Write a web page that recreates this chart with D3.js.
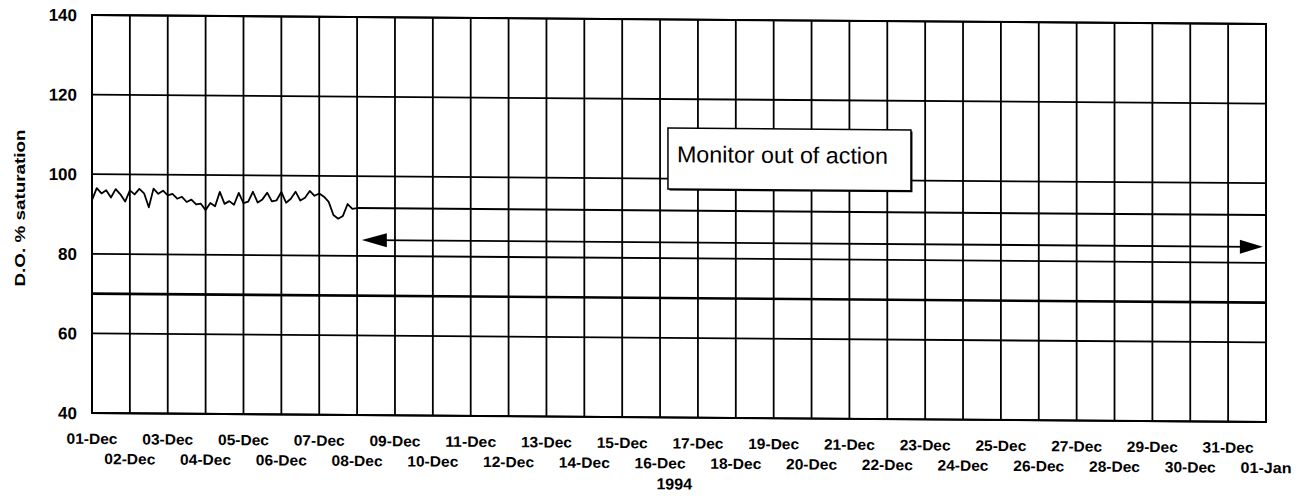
<!DOCTYPE html>
<html>
<head>
<meta charset="utf-8">
<script src="https://cdn.jsdelivr.net/npm/d3@7"></script>
<style>
  body { margin: 0; background: #fff; }
  text { font-family: "Liberation Sans", Arial, sans-serif; fill: #000; }
</style>
</head>
<body>
<div id="chart"></div>
<script>
// ---- data ----
let startDate = new Date(1994, 11, 1);
let endDate = new Date(1995, 0, 1);
let stepHours = 3; // readings every 3 hours

// D.O. % saturation, 01-Dec 00:00 .. 08-Dec 00:00
let doValues = [
    93.5, 96.5, 95.2, 96.0, 94.2, 96.3, 95.0, 93.2,
    96.0, 95.0, 96.4, 95.3, 91.8, 96.5, 95.2, 96.0,
    94.8, 95.2, 94.0, 94.5, 93.2, 93.8, 92.6, 92.8,
    91.2, 93.0, 92.2, 95.8, 92.8, 93.5, 92.6, 95.6,
    93.0, 93.4, 95.9, 93.2, 94.0, 95.7, 93.5, 93.8,
    95.9, 93.2, 94.2, 96.0, 93.8, 94.5, 96.2, 95.0,
    95.6, 94.8, 93.5, 90.2, 89.3, 90.0, 93.0, 91.8,
    92.0
];
// flat trace after the monitor stopped
let flatTrace = [
    {date: new Date(1994, 11, 8), value: 92.0},
    {date: new Date(1995, 0, 1), value: 92.0}
];
let yTicks = [40, 60, 80, 100, 120, 140];
let thresholdValue = 70;
// double arrow marking the outage
let arrowSpan = [new Date(1994, 11, 8, 3), new Date(1994, 11, 31, 22)];
let arrowValue = 84;
// annotation box corners (date, value)
let noteBox = [new Date(1994, 11, 16, 5), 112.7, new Date(1994, 11, 22, 15), 97.4];
let noteText = "Monitor out of action";
let yTitle = "D.O. % saturation";
let xTitle = "1994";

// ---- layout ----
let width = 1302, height = 503;
let margin = {left: 92, top: 15};
let plotW = 1174, plotH = 398;

let svg = d3.select("#chart").append("svg")
    .attr("width", width)
    .attr("height", height);

// the scan is slightly skewed, keep that
let g = svg.append("g")
    .attr("transform", `translate(${margin.left},${margin.top}) skewY(0.44)`);

let x = d3.scaleTime().domain([startDate, endDate]).range([0, plotW]);
let y = d3.scaleLinear().domain([40, 140]).range([plotH, 0]);

let series = doValues.map((v, i) => ({
    date: d3.timeHour.offset(startDate, i * stepHours),
    value: v
}));

// vertical day grid
let days = d3.timeDay.range(startDate, d3.timeDay.offset(endDate, 1));
g.selectAll(".vgrid")
    .data(days)
    .join("line")
    .attr("class", "vgrid")
    .attr("x1", d => x(d)).attr("x2", d => x(d))
    .attr("y1", 0).attr("y2", plotH)
    .attr("stroke", "#000")
    .attr("stroke-width", 1.8);

// horizontal grid
g.selectAll(".hgrid")
    .data(yTicks)
    .join("line")
    .attr("class", "hgrid")
    .attr("x1", 0).attr("x2", plotW)
    .attr("y1", d => y(d)).attr("y2", d => y(d))
    .attr("stroke", "#000")
    .attr("stroke-width", 1.8);

// frame
g.append("rect")
    .attr("width", plotW).attr("height", plotH)
    .attr("fill", "none")
    .attr("stroke", "#000")
    .attr("stroke-width", 2);

// 70% line
g.append("line")
    .attr("x1", 0).attr("x2", plotW)
    .attr("y1", y(thresholdValue)).attr("y2", y(thresholdValue))
    .attr("stroke", "#000")
    .attr("stroke-width", 2.6);

let line = d3.line().x(d => x(d.date)).y(d => y(d.value));

g.append("path")
    .datum(series)
    .attr("d", line)
    .attr("fill", "none")
    .attr("stroke", "#000")
    .attr("stroke-width", 1.8)
    .attr("stroke-linejoin", "round");

g.append("path")
    .datum(flatTrace)
    .attr("d", line)
    .attr("fill", "none")
    .attr("stroke", "#000")
    .attr("stroke-width", 2);

// double arrow
let ax1 = x(arrowSpan[0]), ax2 = x(arrowSpan[1]), ay = y(arrowValue);
g.append("line")
    .attr("x1", ax1 + 10).attr("x2", ax2 - 10)
    .attr("y1", ay).attr("y2", ay)
    .attr("stroke", "#000")
    .attr("stroke-width", 1.8);
g.append("path")
    .attr("d", `M${ax1},${ay} L${ax1 + 25},${ay - 7} L${ax1 + 25},${ay + 7} Z`)
    .attr("fill", "#000");
g.append("path")
    .attr("d", `M${ax2},${ay} L${ax2 - 23},${ay - 7} L${ax2 - 23},${ay + 7} Z`)
    .attr("fill", "#000");

// annotation box
let bx = x(noteBox[0]), by = y(noteBox[1]);
let bw = x(noteBox[2]) - bx, bh = y(noteBox[3]) - by;
g.append("rect")
    .attr("x", bx + 1.5).attr("y", by + 1.5)
    .attr("width", bw).attr("height", bh)
    .attr("fill", "#000");
g.append("rect")
    .attr("x", bx).attr("y", by)
    .attr("width", bw).attr("height", bh)
    .attr("fill", "#fff")
    .attr("stroke", "#000")
    .attr("stroke-width", 1.5);
g.append("text")
    .attr("x", bx + 9)
    .attr("y", by + 34)
    .attr("font-size", "23px")
    .attr("textLength", 211)
    .attr("lengthAdjust", "spacingAndGlyphs")
    .text(noteText);

// y tick labels
g.selectAll(".ylab")
    .data(yTicks)
    .join("text")
    .attr("class", "ylab")
    .attr("x", -15)
    .attr("y", d => y(d))
    .attr("dy", "0.36em")
    .attr("text-anchor", "end")
    .attr("font-size", "17px")
    .attr("font-weight", "bold")
    .text(d => d);

// x tick labels, alternating rows
let fmt = d3.timeFormat("%d-%b");
g.selectAll(".xlab")
    .data(days)
    .join("text")
    .attr("class", "xlab")
    .attr("x", d => x(d))
    .attr("y", (d, i) => i % 2 === 0 ? plotH + 31 : plotH + 51)
    .attr("text-anchor", "middle")
    .attr("font-size", "15px")
    .attr("font-weight", "bold")
    .attr("textLength", 51)
    .attr("lengthAdjust", "spacingAndGlyphs")
    .text(d => fmt(d));

g.append("text")
    .attr("x", x(new Date(1994, 11, 16, 9)))
    .attr("y", plotH + 72)
    .attr("text-anchor", "middle")
    .attr("font-size", "16px")
    .attr("font-weight", "bold")
    .text(xTitle);

// y title
svg.append("text")
    .attr("transform", "translate(25,208) rotate(-90)")
    .attr("text-anchor", "middle")
    .attr("font-size", "15px")
    .attr("font-weight", "bold")
    .attr("textLength", 157)
    .attr("lengthAdjust", "spacingAndGlyphs")
    .text(yTitle);
</script>
</body>
</html>
